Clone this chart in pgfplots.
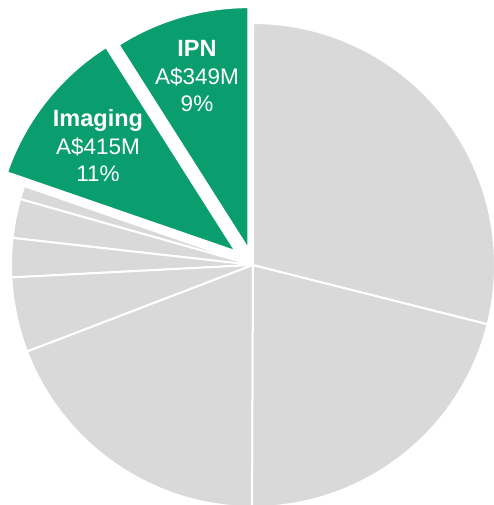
\documentclass[border=0pt]{standalone}
\usepackage{pgfplots}
\usepackage{pgfplotstable}
\pgfplotsset{compat=1.18}
\usepackage{fontspec}
\setmainfont{Liberation Sans}
\definecolor{pgreen}{RGB}{10,158,110}
\definecolor{pgrey}{RGB}{217,217,217}

% segment values (A$M), explode offset (pt), counter-clockwise from 12 o'clock
\pgfplotstableread{
name value explode
IPN 349 16.5
Imaging 415 22
A 35 0
B 101 0
C 101 0
D 194 0
E 741 0
F 819 0
G 1121 0
}\piedata

\begin{document}
\begin{tikzpicture}
\pgfplotstablegetrowsof{\piedata}
\pgfmathtruncatemacro\nrows{\pgfplotsretval-1}
\gdef\pietotal{0}
\foreach \i in {0,...,\nrows}{
  \pgfplotstablegetelem{\i}{value}\of\piedata
  \pgfmathsetmacro\tmp{\pietotal+\pgfplotsretval}
  \global\let\pietotal\tmp
}
\gdef\cumang{90}
\foreach \i in {0,...,\nrows}{
  \pgfplotstablegetelem{\i}{value}\of\piedata
  \pgfmathsetmacro\pfrac{\pgfplotsretval/\pietotal}
  \pgfmathsetmacro\pspan{360*\pfrac}
  \pgfmathsetmacro\endang{\cumang+\pspan}
  \pgfmathsetmacro\midang{\cumang+\pspan/2}
  \expandafter\xdef\csname pieS\i\endcsname{\cumang}
  \expandafter\xdef\csname pieE\i\endcsname{\endang}
  \expandafter\xdef\csname pieM\i\endcsname{\midang}
  \pgfplotstablegetelem{\i}{explode}\of\piedata
  \expandafter\xdef\csname pieX\i\endcsname{\pgfplotsretval}
  \global\let\cumang\endang
}
\begin{axis}[hide axis, scale only axis, x=1pt, y=1pt,
  xmin=-253, xmax=241, ymin=-240, ymax=265]
\pgfplotsinvokeforeach{0,1}{
  \fill[fill=pgreen, draw=white, line width=2pt]
    (axis cs:{\csname pieX#1\endcsname*cos(\csname pieM#1\endcsname)},{\csname pieX#1\endcsname*sin(\csname pieM#1\endcsname)})
    -- ++(\csname pieS#1\endcsname:242pt)
    arc[start angle=\csname pieS#1\endcsname, end angle=\csname pieE#1\endcsname, radius=242pt] -- cycle;
}
\pgfplotsinvokeforeach{2,...,8}{
  \fill[fill=pgrey, draw=white, line width=2pt]
    (axis cs:{\csname pieX#1\endcsname*cos(\csname pieM#1\endcsname)},{\csname pieX#1\endcsname*sin(\csname pieM#1\endcsname)})
    -- ++(\csname pieS#1\endcsname:242pt)
    arc[start angle=\csname pieS#1\endcsname, end angle=\csname pieE#1\endcsname, radius=242pt] -- cycle;
}
\node[anchor=base, text=white, font=\fontsize{23.5}{26}\selectfont\bfseries] at (axis cs:-56,208) {IPN};
\node[anchor=base, text=white, font=\fontsize{22.5}{26}\selectfont] at (axis cs:-56,180) {A\$349M};
\node[anchor=base, text=white, font=\fontsize{22.5}{26}\selectfont] at (axis cs:-56,153) {9\%};
\node[anchor=base, text=white, font=\fontsize{23.5}{26}\selectfont\bfseries] at (axis cs:-155,138) {Imaging};
\node[anchor=base, text=white, font=\fontsize{22.5}{26}\selectfont] at (axis cs:-155,110) {A\$415M};
\node[anchor=base, text=white, font=\fontsize{22.5}{26}\selectfont] at (axis cs:-155,83) {11\%};
\end{axis}
\pgfresetboundingbox
\useasboundingbox (current axis.south west) rectangle (current axis.north east);
\end{tikzpicture}
\end{document}
